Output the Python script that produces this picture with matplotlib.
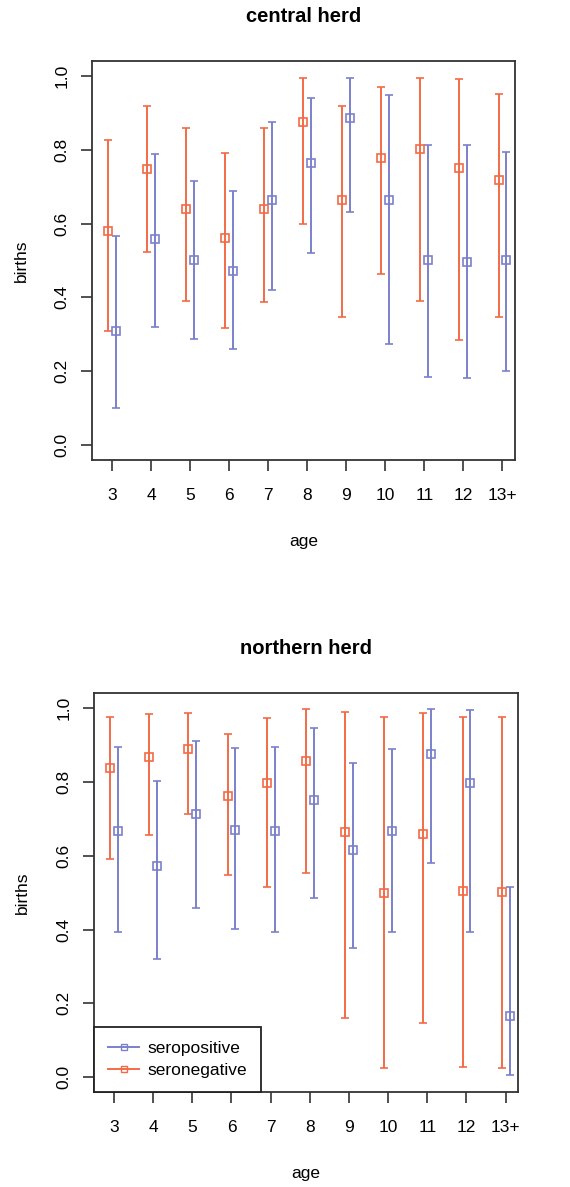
import matplotlib
matplotlib.use("Agg")
import matplotlib.pyplot as plt
from matplotlib.lines import Line2D
import numpy as np

plt.rcParams["font.family"] = ["Liberation Sans", "DejaVu Sans"]

ages = ["3", "4", "5", "6", "7", "8", "9", "10", "11", "12", "13+"]

# central herd
central_pos = [0.309, 0.558, 0.500, 0.472, 0.665, 0.765, 0.887, 0.663, 0.500, 0.497, 0.500]
central_pos_lo = [0.100, 0.321, 0.288, 0.261, 0.420, 0.519, 0.632, 0.274, 0.185, 0.182, 0.202]
central_pos_hi = [0.567, 0.789, 0.714, 0.688, 0.874, 0.941, 0.995, 0.948, 0.812, 0.812, 0.793]
central_neg = [0.581, 0.748, 0.640, 0.560, 0.640, 0.876, 0.663, 0.777, 0.802, 0.751, 0.718]
central_neg_lo = [0.309, 0.524, 0.391, 0.318, 0.387, 0.598, 0.348, 0.464, 0.391, 0.285, 0.348]
central_neg_hi = [0.827, 0.917, 0.860, 0.791, 0.860, 0.995, 0.917, 0.969, 0.993, 0.991, 0.952]

# northern herd
north_pos = [0.666, 0.571, 0.714, 0.669, 0.666, 0.750, 0.615, 0.666, 0.874, 0.796, 0.166]
north_pos_lo = [0.392, 0.319, 0.459, 0.402, 0.392, 0.485, 0.351, 0.392, 0.581, 0.392, 0.005]
north_pos_hi = [0.895, 0.803, 0.910, 0.892, 0.895, 0.946, 0.851, 0.889, 0.997, 0.995, 0.515]
north_neg = [0.836, 0.868, 0.889, 0.762, 0.797, 0.857, 0.663, 0.498, 0.659, 0.504, 0.502]
north_neg_lo = [0.590, 0.656, 0.714, 0.547, 0.515, 0.554, 0.161, 0.025, 0.146, 0.027, 0.024]
north_neg_hi = [0.976, 0.983, 0.986, 0.929, 0.972, 0.997, 0.988, 0.976, 0.986, 0.976, 0.976]

BLUE = "#7b80cc"
ORANGE = "#f36a45"
FS = 12.5


def draw_panel(ax, title, pos, pos_lo, pos_hi, neg, neg_lo, neg_hi):
    x = np.arange(1, len(ages) + 1)
    for xs, y, lo, hi, col in [(x - 0.1, neg, neg_lo, neg_hi, ORANGE),
                               (x + 0.1, pos, pos_lo, pos_hi, BLUE)]:
        y = np.array(y)
        err = [y - np.array(lo), np.array(hi) - y]
        ax.errorbar(xs, y, yerr=err, fmt="s", mfc="none", mec=col,
                    ms=6, mew=1.2, ecolor=col, elinewidth=1.4,
                    capsize=3, capthick=1.4)

    ax.set_xlim(0.49, 11.32)
    ax.set_ylim(-0.04, 1.04)
    ax.set_xticks(x)
    ax.set_xticklabels(ages)
    ax.set_yticks([0.0, 0.2, 0.4, 0.6, 0.8, 1.0])
    ax.set_yticklabels(["0.0", "0.2", "0.4", "0.6", "0.8", "1.0"],
                       rotation=90, va="center")
    ax.tick_params(axis="both", length=8, width=1.2, color="#333333",
                   labelsize=FS)
    ax.tick_params(axis="x", pad=12)
    ax.tick_params(axis="y", pad=8)
    for s in ax.spines.values():
        s.set_color("#333333")
        s.set_linewidth(1.3)

    ax.set_title(title, fontsize=14.5, fontweight="bold", pad=28)
    ax.set_xlabel("age", fontsize=FS, va="center")
    ax.xaxis.set_label_coords(0.5, -0.205)
    ax.set_ylabel("births", fontsize=FS, va="center")
    ax.yaxis.set_label_coords(-0.168, 0.5)


fig = plt.figure(figsize=(5.7, 11.87), dpi=100)
ax1 = fig.add_axes([0.1614, 0.6125, 0.742, 0.3361])
ax2 = fig.add_axes([0.165, 0.080, 0.744, 0.3361])

draw_panel(ax1, "central herd", central_pos, central_pos_lo, central_pos_hi,
           central_neg, central_neg_lo, central_neg_hi)
draw_panel(ax2, "northern herd", north_pos, north_pos_lo, north_pos_hi,
           north_neg, north_neg_lo, north_neg_hi)

handles = [Line2D([], [], color=BLUE, marker="s", mfc="none", ms=5, lw=1.4),
           Line2D([], [], color=ORANGE, marker="s", mfc="none", ms=5, lw=1.4)]
leg = ax2.legend(handles, ["seropositive", "seronegative"], loc="lower left",
                 borderaxespad=0, fancybox=False, framealpha=1,
                 edgecolor="#222222", fontsize=FS, handlelength=1.8,
                 labelspacing=0.4, handletextpad=0.5, borderpad=0.8)
leg.get_frame().set_linewidth(1.3)

fig.savefig("out.png", dpi=100)
plt.close(fig)
